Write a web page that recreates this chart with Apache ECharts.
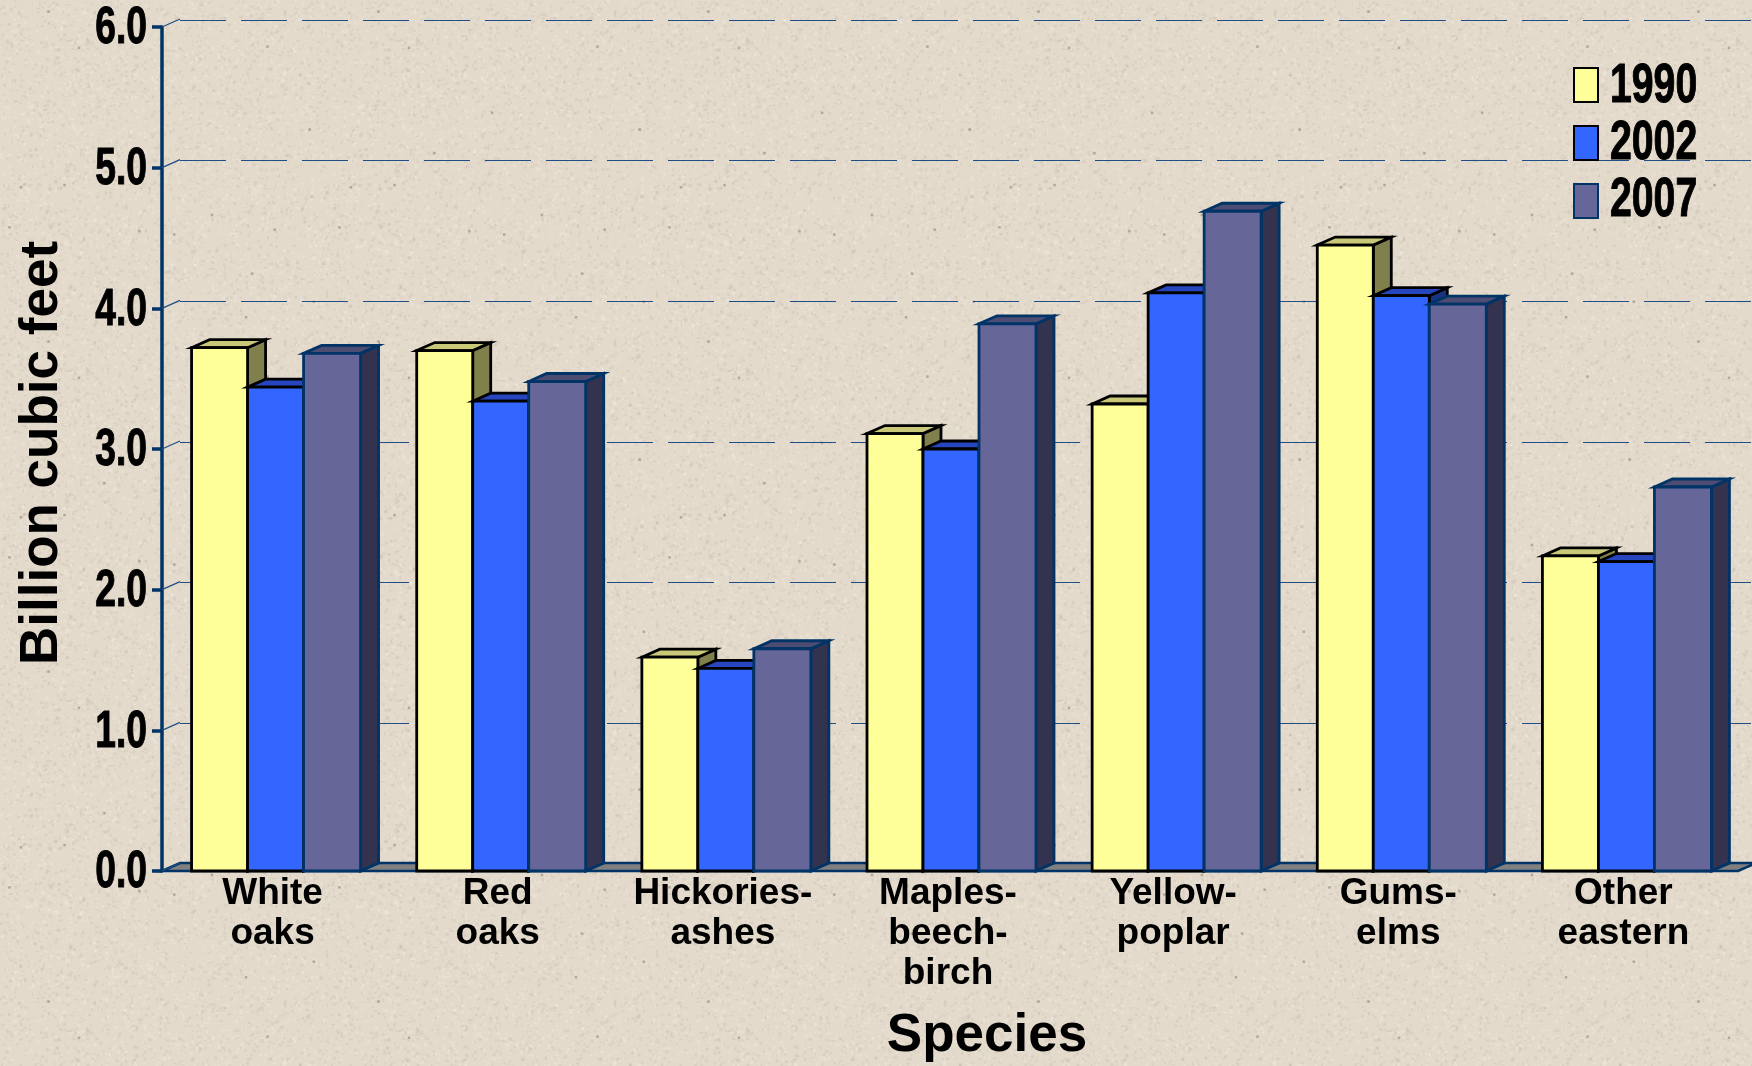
<!DOCTYPE html>
<html>
<head>
<meta charset="utf-8">
<style>html,body{margin:0;padding:0;background:#e3dacc}#c{width:1752px;height:1066px}</style>
<script src="https://cdn.jsdelivr.net/npm/echarts@6/dist/echarts.min.js"></script>
</head>
<body>
<div id="c"></div>
<script>
const categories = ['White\noaks','Red\noaks','Hickories-\nashes','Maples-\nbeech-\nbirch','Yellow-\npoplar','Gums-\nelms','Other\neastern'];
const seriesNames = ['1990','2002','2007'];
const values1990 = [3.72,3.70,1.52,3.11,3.32,4.45,2.24];
const values2002 = [3.44,3.34,1.44,3.00,4.11,4.09,2.20];
const values2007 = [3.68,3.48,1.58,3.89,4.69,4.03,2.73];
const yTicks = [0,1,2,3,4,5,6];

const styles = [
  {front:'#ffff99', top:'#c8c878', side:'#80804d', stroke:'#000000', lw:2.8},
  {front:'#3366ff', top:'#2645bf', side:'#1a3380', stroke:'#000000', lw:2.8},
  {front:'#666699', top:'#4d4d73', side:'#333350', stroke:'#003366', lw:2.8}
];
const DX = 18, DY = 8;
const offsets = [[-83,-27],[-27,29],[29,86]];
const FONT = '"Liberation Sans",Arial,sans-serif';

function renderBar(idx){
  return function(params, api){
    const cat = api.value(0), val = api.value(1);
    const base = api.coord([cat,0]), top = api.coord([cat,val]);
    const s = styles[idx], o = offsets[idx];
    const l = base[0]+o[0], r = base[0]+o[1], b = base[1], t = top[1];
    const common = {stroke:s.stroke, lineWidth:s.lw, lineJoin:'miter'};
    return {type:'group', children:[
      {type:'polygon', shape:{points:[[r,b],[r+DX,b-DY],[r+DX,t-DY],[r,t]]}, style:Object.assign({fill:s.side},common)},
      {type:'polygon', shape:{points:[[l,t],[l+DX,t-DY],[r+DX,t-DY],[r,t]]}, style:Object.assign({fill:s.top},common)},
      {type:'rect', shape:{x:l,y:t,width:r-l,height:b-t}, style:Object.assign({fill:s.front},common)}
    ]};
  };
}

function renderFloor(params, api){
  const a = api.coord([0,0]);
  const band = api.size([1,0])[0];
  const x0 = a[0]-band/2, x1 = x0+band*categories.length, y = a[1];
  return {type:'polygon', shape:{points:[[x0,y],[x0+DX,y-DY],[x1+DX,y-DY],[x1,y]]},
    style:{fill:'#808080', stroke:'#003366', lineWidth:2.5}};
}
function renderDiag(params, api){
  const a = api.coord([0,api.value(0)]);
  const band = api.size([1,0])[0];
  const x0 = a[0]-band/2, y = a[1];
  return {type:'line', shape:{x1:x0,y1:y,x2:x0+DX,y2:y-DY}, style:{stroke:'#1f4f86', lineWidth:1.2}};
}
// condensed bold tick labels, positioned by the value scale
function renderTickLabel(params, api){
  const v = api.value(0);
  const a = api.coord([0,v]);
  const band = api.size([1,0])[0];
  return {type:'text', x:a[0]-band/2-15, y:a[1]+2, scaleX:.73, scaleY:1.03,
    style:{text:v.toFixed(1), fill:'#000', stroke:'#000', lineWidth:1, font:'bold 51px '+FONT, textAlign:'right', textVerticalAlign:'middle'}};
}

// paper texture tile (decoration only)
function paper(){
  const n=330, cv=document.createElement('canvas'); cv.width=n; cv.height=n;
  const g=cv.getContext('2d'); g.fillStyle='#e3dacc'; g.fillRect(0,0,n,n);
  let s=12345; const rnd=()=>{s=(s*1103515245+12345)&0x7fffffff;return s/0x7fffffff;};
  for(let i=0;i<5200;i++){
    const x=rnd()*n,y=rnd()*n,d=rnd();
    g.fillStyle=d<.5?'rgba(250,245,235,.25)':'rgba(175,160,140,.16)';
    g.fillRect(x,y,1+rnd()*2.5,1+rnd()*2.5);
  }
  for(let i=0;i<16;i++){
    g.fillStyle='rgba(120,105,90,.45)';
    g.fillRect(rnd()*n,rnd()*n,2.5,2.5);
  }
  return cv;
}

const chart = echarts.init(document.getElementById('c'), null, {renderer:'canvas'});
const barsData = [values1990,values2002,values2007];

chart.setOption({
  animation:false,
  backgroundColor:{image:paper(), repeat:'repeat'},
  title:{text:'Species', left:982, top:1005, textAlign:'center',
    textStyle:{fontFamily:FONT, fontWeight:'bold', fontSize:53, color:'#000'}},
  legend:{
    data:seriesNames, orient:'vertical', left:1573, top:67, itemWidth:24, itemHeight:34, itemGap:22, padding:0,
    selectedMode:false, icon:'rect', formatter:()=>'',
    textStyle:{fontSize:10, lineHeight:10}
  },
  graphic:seriesNames.map((n,i)=>({
    type:'text', x:1610, y:87+i*57, scaleX:.74, scaleY:1.03,
    style:{text:n, fill:'#000', stroke:'#000', lineWidth:1, font:'bold 53px '+FONT, textAlign:'left', textVerticalAlign:'middle'}
  })),
  grid:[
    {left:162, right:14, top:27, bottom:195, outerBoundsMode:'none'},
    {left:180, right:-10, top:20, bottom:202, outerBoundsMode:'none'}
  ],
  xAxis:[
    {type:'category', gridIndex:0, data:categories, axisTick:{show:false},
     axisLine:{show:false},
     axisLabel:{interval:0, margin:3, fontFamily:FONT, fontWeight:'bold', fontSize:37, lineHeight:40, color:'#000', padding:[0,4,0,0]}},
    {type:'category', gridIndex:1, show:false, data:categories}
  ],
  yAxis:[
    {type:'value', gridIndex:0, min:0, max:6, interval:1,
     name:'Billion cubic feet', nameLocation:'middle', nameGap:93, nameRotate:90,
     nameTextStyle:{fontFamily:FONT, fontWeight:'bold', fontSize:53, color:'#000', padding:[0,8,0,0]},
     axisLine:{show:true, lineStyle:{color:'#003366', width:3.5}},
     axisTick:{show:true, length:10, lineStyle:{color:'#003366', width:3.5}},
     splitLine:{show:false},
     axisLabel:{show:false}},
    {type:'value', gridIndex:1, min:0, max:6, interval:1,
     axisLine:{show:false}, axisTick:{show:false}, axisLabel:{show:false},
     splitLine:{show:true, lineStyle:{color:'#1f4f86', width:1, type:[46,15]}}}
  ],
  series:[
    {type:'custom', name:'floor', xAxisIndex:0, yAxisIndex:0, data:[[0,0]], renderItem:renderFloor, silent:true, z:1},
    {type:'custom', name:'diag', xAxisIndex:0, yAxisIndex:0, data:yTicks.map(v=>[v]), renderItem:renderDiag, silent:true, z:1, encode:{y:0}},
    {type:'custom', name:'ticks', xAxisIndex:0, yAxisIndex:0, data:yTicks.map(v=>[v]), renderItem:renderTickLabel, silent:true, z:6, clip:false, encode:{y:0}}
  ].concat(seriesNames.map((n,i)=>({
    type:'custom', name:n, xAxisIndex:0, yAxisIndex:0, z:2+i,
    data:barsData[i].map((v,c)=>[c,v]), renderItem:renderBar(i),
    encode:{x:0,y:1},
    itemStyle:{color:styles[i].front, borderColor:styles[i].stroke, borderWidth:2.5}
  })))
});
</script>
</body>
</html>
